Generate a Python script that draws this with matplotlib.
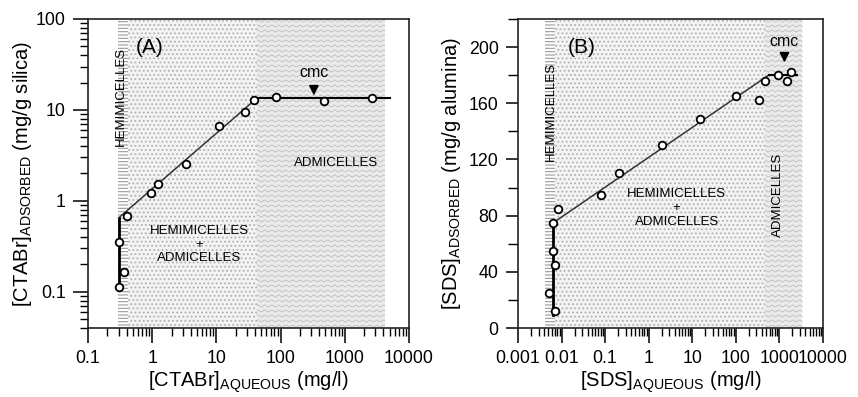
import numpy as np
import matplotlib
matplotlib.use("Agg")
import matplotlib.pyplot as plt
from matplotlib import ticker

plt.rcParams['font.family'] = ['Liberation Sans', 'DejaVu Sans']
plt.rcParams['mathtext.fontset'] = 'custom'
plt.rcParams['mathtext.rm'] = 'Liberation Sans'
plt.rcParams['mathtext.it'] = 'Liberation Sans:italic'
plt.rcParams['hatch.linewidth'] = 0.8

# panel A: CTABr on silica
ctab_aq = [0.30, 0.36, 0.30, 0.40, 0.97, 1.23, 3.3, 11.1, 27.5, 38.6, 84, 480, 2650]
ctab_ads = [0.113, 0.166, 0.35, 0.68, 1.22, 1.54, 2.55, 6.7, 9.6, 12.9, 14.0, 12.4, 13.5]
ctab_fit_x = [0.30, 0.30, 43, 5000]
ctab_fit_y = [0.105, 0.65, 13.5, 13.5]
ctab_hemi = (0.29, 0.42)
ctab_dots = (0.42, 4200)
ctab_waves = (43, 4200)

# panel B: SDS on alumina
sds_aq = [0.0071, 0.0051, 0.0071, 0.0063, 0.0065, 0.0085, 0.081, 0.21, 2.07, 14.8, 102, 346, 476, 915, 1500, 1900]
sds_ads = [12, 25, 45, 55, 75, 85, 95, 110, 130, 149, 165, 162, 176, 180, 176, 182]
sds_fit_x = [0.0065, 0.0065, 570, 2500]
sds_fit_y = [9, 75, 180, 180]
sds_hemi = (0.0042, 0.0071)
sds_dots = (0.0071, 3400)
sds_waves = (480, 3400)


def shade(ax, hemi, dots, waves):
    ax.axvspan(*hemi, facecolor='white', edgecolor='#9a9a9a', hatch='-----', lw=0, zorder=0)
    ax.axvspan(*dots, facecolor='#f3f3f3', edgecolor='#b0b0b0', hatch='....', lw=0, zorder=0)
    ax.axvspan(*waves, facecolor='#ebebeb', edgecolor='none', lw=0, zorder=0.2)
    # wavy texture drawn in axes fraction
    bb = ax.get_window_extent()
    W, H = bb.width, bb.height
    lx = np.log10(ax.get_xlim())
    f0 = (np.log10(waves[0]) - lx[0]) / (lx[1] - lx[0])
    f1 = (np.log10(waves[1]) - lx[0]) / (lx[1] - lx[0])
    xs = np.linspace(f0, f1, 500)
    for yk in np.arange(2.0, H, 5.0):
        ys = (yk + 1.0 * np.sin(2 * np.pi * xs * W / 7.0)) / H
        ax.plot(xs, ys, color='#b4b4b4', lw=0.5, transform=ax.transAxes, zorder=0.5)


def fitline(ax, fx, fy):
    ax.plot(fx[0:2], fy[0:2], color='black', lw=2.0, zorder=3)
    ax.plot(fx[1:3], fy[1:3], color='#333333', lw=1.1, zorder=3)
    ax.plot(fx[2:4], fy[2:4], color='black', lw=1.5, zorder=3)


def style(ax):
    for s in ax.spines.values():
        s.set_linewidth(1.2)
        s.set_color('#222222')
    ax.tick_params(which='major', length=11, width=1.1, labelsize=12.8, pad=5, direction='out')
    ax.tick_params(which='minor', length=6, width=1.0, direction='out')
    ax.xaxis.set_major_formatter(ticker.FuncFormatter(lambda v, p: f'{v:g}'))


fig = plt.figure(figsize=(8.58, 3.97), dpi=100)
axA = fig.add_axes([0.1026, 0.1738, 0.3741, 0.7784])
axB = fig.add_axes([0.6037, 0.1738, 0.3552, 0.7784])

# --- A ---
axA.set_xscale('log')
axA.set_yscale('log')
axA.set_xlim(0.1, 10000)
axA.set_ylim(0.04, 100)
axA.xaxis.set_major_locator(ticker.LogLocator(base=10, numticks=10))
axA.xaxis.set_minor_locator(ticker.LogLocator(base=10, subs=np.arange(2, 10), numticks=20))
axA.yaxis.set_major_formatter(ticker.FuncFormatter(lambda v, p: f'{v:g}'))
style(axA)
shade(axA, ctab_hemi, ctab_dots, ctab_waves)
fitline(axA, ctab_fit_x, ctab_fit_y)
axA.plot(ctab_aq, ctab_ads, 'o', ms=5.5, mfc='white', mec='black', mew=1.3, zorder=4)
axA.text(0.9, 48, '(A)', fontsize=15, ha='center', va='center')
axA.text(0.33, 14, 'HEMIMICELLES', fontsize=9.5, rotation=90, ha='center', va='center', zorder=5)
axA.annotate('cmc', xy=(330, 14.4), xytext=(330, 25.7), fontsize=11.5, ha='center', va='center',
             arrowprops=dict(arrowstyle='-|>,head_width=0.25,head_length=0.5', color='black', lw=1.2,
                             shrinkA=5, shrinkB=0))
axA.text(720, 2.6, 'ADMICELLES', fontsize=9.5, ha='center', va='center')
axA.text(5.4, 0.33, 'HEMIMICELLES\n+\nADMICELLES', fontsize=9.5, ha='center', va='center',
         linespacing=1.2)
axA.set_xlabel(r'[CTABr]$_{\mathrm{AQUEOUS}}$ (mg/l)', fontsize=14.5)
axA.set_ylabel(r'[CTABr]$_{\mathrm{ADSORBED}}$ (mg/g silica)', fontsize=14.5)
axA.xaxis.set_label_coords(0.5, -0.135)
axA.yaxis.set_label_coords(-0.168, 0.5)

# --- B ---
axB.set_xscale('log')
axB.set_xlim(0.001, 10000)
axB.set_ylim(0, 220)
axB.xaxis.set_major_locator(ticker.LogLocator(base=10, numticks=10))
axB.xaxis.set_minor_locator(ticker.LogLocator(base=10, subs=np.arange(2, 10), numticks=20))
axB.yaxis.set_major_locator(ticker.MultipleLocator(40))
axB.yaxis.set_minor_locator(ticker.MultipleLocator(20))
style(axB)
axB.tick_params(axis='y', which='major', length=9)
axB.tick_params(axis='y', which='minor', length=7)
shade(axB, sds_hemi, sds_dots, sds_waves)
fitline(axB, sds_fit_x, sds_fit_y)
axB.plot(sds_aq, sds_ads, 'o', ms=5.5, mfc='white', mec='black', mew=1.3, zorder=4)
axB.text(0.029, 200, '(B)', fontsize=15, ha='center', va='center')
axB.text(0.0056, 154, 'HEMIMICELLES', fontsize=9.5, rotation=90, ha='center', va='center', zorder=5)
axB.annotate('cmc', xy=(1320, 189), xytext=(1320, 204), fontsize=11.5, ha='center', va='center',
             arrowprops=dict(arrowstyle='-|>,head_width=0.25,head_length=0.5', color='black', lw=1.2,
                             shrinkA=5, shrinkB=0))
axB.text(4.4, 85.6, 'HEMIMICELLES\n+\nADMICELLES', fontsize=9.5, ha='center', va='center',
         linespacing=1.2)
axB.text(960, 95, 'ADMICELLES', fontsize=9.5, rotation=90, ha='center', va='center', zorder=5)
axB.set_xlabel(r'[SDS]$_{\mathrm{AQUEOUS}}$ (mg/l)', fontsize=14.5)
axB.set_ylabel(r'[SDS]$_{\mathrm{ADSORBED}}$ (mg/g alumina)', fontsize=14.5)
axB.xaxis.set_label_coords(0.5, -0.135)
axB.yaxis.set_label_coords(-0.18, 0.5)

fig.savefig('out.png', dpi=100)
